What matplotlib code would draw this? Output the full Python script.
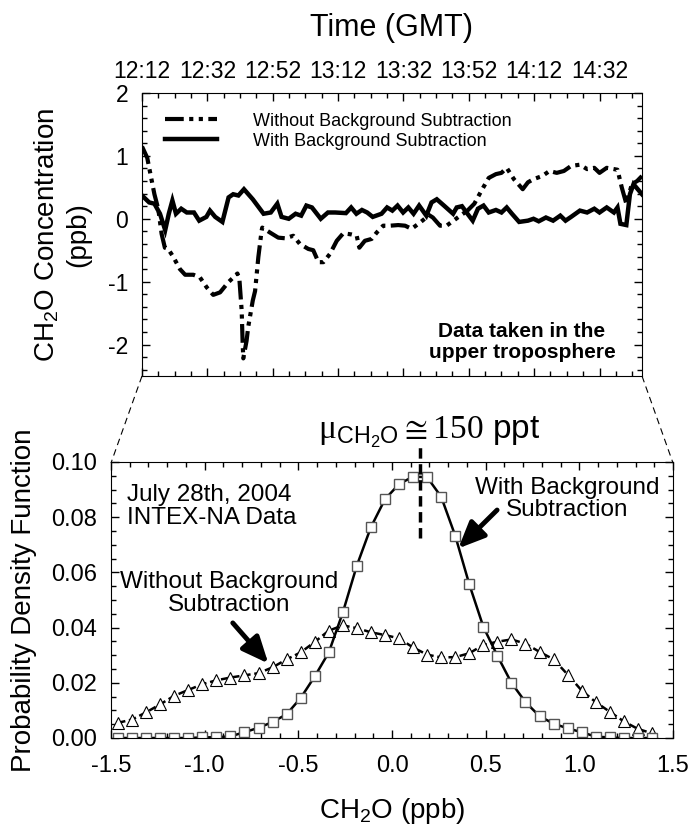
import matplotlib
matplotlib.use("Agg")
import matplotlib.pyplot as plt
from matplotlib.lines import Line2D
from matplotlib.ticker import MultipleLocator, FixedLocator, FixedFormatter, FormatStrFormatter

plt.rcParams['font.family'] = ['Liberation Sans', 'DejaVu Sans']
plt.rcParams['mathtext.fontset'] = 'custom'
plt.rcParams['mathtext.rm'] = 'Liberation Serif'
plt.rcParams['mathtext.sf'] = 'Liberation Sans'
plt.rcParams['mathtext.it'] = 'Liberation Sans:italic'
plt.rcParams['axes.unicode_minus'] = False

# ---- top panel: time series (minutes after 12:12 GMT) ----
time_labels = ['12:12', '12:32', '12:52', '13:12', '13:32', '13:52', '14:12', '14:32']
t_end = 153

t_without = [0, 1.6, 2.7, 3.8, 5.0, 6.0, 7.0, 8.0, 9.5, 11.6, 13.2, 15.7, 17.7, 19.8,
             21.8, 23.9, 26.4, 29.2, 29.8, 30.5, 30.8, 31.0, 32.0, 32.5, 33.9, 34.6,
             35.6, 36.6, 36.8, 39.2, 41.7, 43.8, 46.3, 48.3, 50.9, 52.4, 54.0, 55.5,
             57.5, 59.6, 61.6, 64.2, 65.7, 66.5, 68.2, 70.3, 71.8, 73.8, 75.9, 78.4,
             80.5, 82.5, 85.1, 86.5, 87.5, 89.0, 91.2, 93.2, 95.3, 97.4, 99.6, 101.7,
             103.9, 106.1, 108.3, 110.0, 111.6, 113.8, 116.5, 118.1, 119.8, 122.5,
             124.7, 126.9, 129.1, 131.3, 134.0, 136.2, 138.4, 140.0, 142.2, 145.5,
             146.8, 148.2, 149.9, 151.5, 153.0]
v_without = [1.15, 0.97, 0.68, 0.39, 0.15, -0.24, -0.46, -0.48, -0.60, -0.80, -0.89,
             -0.89, -0.93, -1.09, -1.21, -1.17, -1.01, -0.87, -0.96, -1.46, -1.98,
             -2.22, -1.94, -1.72, -1.30, -1.15, -0.61, -0.19, -0.14, -0.22, -0.30,
             -0.31, -0.27, -0.40, -0.48, -0.50, -0.69, -0.69, -0.56, -0.35, -0.23,
             -0.25, -0.27, -0.46, -0.35, -0.32, -0.22, -0.11, -0.11, -0.10, -0.11,
             -0.16, -0.06, 0.00, 0.07, 0.02, -0.11, -0.11, -0.03, 0.05, 0.13, 0.24,
             0.45, 0.65, 0.71, 0.73, 0.81, 0.63, 0.47, 0.58, 0.63, 0.68, 0.76, 0.73,
             0.76, 0.84, 0.86, 0.79, 0.81, 0.73, 0.81, 0.78, 0.50, 0.24, 0.55, 0.60,
             0.68]

t_with = [0, 2.2, 3.8, 5.5, 7.1, 8.2, 9.3, 10.4, 12.0, 13.7, 15.9, 17.5, 19.7, 20.8,
          22.4, 24.6, 26.5, 27.9, 29.5, 31.2, 33.9, 37.2, 39.4, 41.4, 42.7, 44.9, 47.0,
          48.7, 50.3, 52.0, 54.7, 56.9, 59.1, 62.4, 64.0, 65.6, 67.3, 68.9, 70.6, 73.3,
          75.0, 76.6, 78.2, 79.9, 81.5, 83.1, 84.8, 87.0, 88.6, 90.2, 92.4, 95.2, 96.3,
          97.9, 99.6, 101.2, 102.8, 104.5, 106.1, 108.3, 110.0, 111.6, 113.2, 115.4,
          118.1, 119.8, 121.4, 123.6, 125.8, 128.0, 129.6, 131.3, 134.0, 136.2, 138.4,
          140.0, 142.2, 144.4, 145.5, 146.4, 148.2, 149.3, 150.4, 153.0]
v_with = [0.37, 0.26, 0.24, 0.08, -0.18, 0.08, 0.29, 0.08, 0.16, 0.10, 0.10, -0.03,
          0.03, 0.13, 0.03, -0.05, 0.34, 0.39, 0.37, 0.47, 0.31, 0.08, 0.10, 0.24, 0.03,
          0.00, 0.08, 0.05, 0.21, 0.18, 0.00, 0.10, 0.10, 0.09, 0.18, 0.08, 0.14, 0.10,
          0.03, 0.08, 0.18, 0.13, 0.21, 0.10, 0.18, 0.08, 0.21, 0.05, 0.26, 0.31, 0.21,
          0.08, 0.18, 0.20, 0.08, -0.03, 0.16, 0.21, 0.10, 0.14, 0.10, 0.18, 0.08, -0.05,
          -0.03, 0.00, -0.04, 0.02, -0.03, 0.05, -0.03, 0.03, 0.13, 0.10, 0.16, 0.10,
          0.18, 0.10, 0.18, -0.08, -0.10, 0.39, 0.55, 0.39]

# ---- bottom panel: PDFs ----
pdf_x = [-1.4625, -1.3875, -1.3125, -1.2375, -1.1625, -1.0875, -1.0125, -0.9375,
         -0.8625, -0.7875, -0.7125, -0.6375, -0.5625, -0.4875, -0.4125, -0.3375,
         -0.2625, -0.1875, -0.1125, -0.0375, 0.0375, 0.1125, 0.1875, 0.2625, 0.3375,
         0.4125, 0.4875, 0.5625, 0.6375, 0.7125, 0.7875, 0.8625, 0.9375, 1.0125,
         1.0875, 1.1625, 1.2375, 1.3125, 1.3875]
pdf_with = [0, 0, 0, 0, 0, 0, 0.0002, 0.0003, 0.0006, 0.0021, 0.0037, 0.0058, 0.0086,
            0.0145, 0.0223, 0.0310, 0.0455, 0.0625, 0.0764, 0.0865, 0.0920, 0.0947,
            0.0945, 0.0874, 0.0733, 0.0557, 0.0403, 0.0298, 0.0200, 0.0130, 0.0079,
            0.0052, 0.0035, 0.0021, 0.0005, 0.0002, 0, 0, 0]
pdf_without = [0.0055, 0.0067, 0.0093, 0.0122, 0.0153, 0.0174, 0.0195, 0.0209, 0.0219,
               0.0227, 0.0235, 0.0256, 0.0285, 0.0310, 0.0348, 0.0389, 0.0408, 0.0398,
               0.0383, 0.0373, 0.0361, 0.0328, 0.0302, 0.0292, 0.0293, 0.0307, 0.0337,
               0.0349, 0.0357, 0.0342, 0.0312, 0.0285, 0.0230, 0.0172, 0.0130, 0.0095,
               0.0060, 0.0033, 0.0017]
mean_ppb = 0.15

W, H = 691, 835
fig = plt.figure(figsize=(W / 100, H / 100), dpi=100)
ax1 = fig.add_axes([142 / W, 1 - 376 / H, 500 / W, 283 / H])
ax2 = fig.add_axes([111 / W, 1 - 738 / H, 562 / W, 276 / H])

# top panel
dashdot = (0, (4.5, 1.3, 1.0, 1.3, 1.0, 1.3))
ax1.plot(t_without, v_without, color='black', lw=3.0, linestyle=dashdot,
         label='Without Background Subtraction')
ax1.plot(t_with, v_with, color='black', lw=3.2, solid_joinstyle='miter',
         label='With Background Subtraction')
ax1.set_xlim(0, t_end)
ax1.set_ylim(-2.5, 2)
tick_pos = [(int(s[:2]) - 12) * 60 + int(s[3:]) - 12 for s in time_labels]
ax1.xaxis.set_major_locator(FixedLocator(tick_pos))
ax1.xaxis.set_major_formatter(FixedFormatter(time_labels))
ax1.xaxis.set_minor_locator(MultipleLocator(5))
ax1.yaxis.set_major_locator(MultipleLocator(1))
ax1.yaxis.set_minor_locator(MultipleLocator(0.2))
ax1.tick_params(axis='x', which='both', top=True, bottom=True, labeltop=True,
                labelbottom=False, direction='in')
ax1.tick_params(axis='y', which='both', left=True, right=True, direction='in')
ax1.tick_params(which='major', length=6, width=1, labelsize=16.5, pad=7)
ax1.tick_params(which='minor', length=3.5, width=1)
ax1.tick_params(axis='y', pad=10)
ax1.set_ylabel('CH$_\\mathsf{2}$O Concentration\n(ppb)', fontsize=20, labelpad=12)
ax1.legend(loc='upper left', bbox_to_anchor=(0.046, 0.93), frameon=False,
           fontsize=13, handlelength=2.9, handletextpad=2.0, labelspacing=0.15,
           borderpad=0, borderaxespad=0)
ax1.text(0.76, 0.12, 'Data taken in the\nupper troposphere', transform=ax1.transAxes,
         ha='center', va='center', fontsize=15, fontweight='bold', linespacing=1.1)
fig.text(392 / W, 1 - 28 / H, 'Time (GMT)', ha='center', va='center', fontsize=22)

# bottom panel
ax2.plot(pdf_x, pdf_without, color='black', lw=1.8, linestyle=(0, (3, 1.5)),
         marker='^', markersize=8, markerfacecolor='white', markeredgecolor='black',
         markeredgewidth=0.8)
ax2.plot(pdf_x, pdf_with, color='black', lw=1.8, marker='s', markersize=7,
         markerfacecolor='white', markeredgecolor='#555555', markeredgewidth=1.0)
ax2.set_xlim(-1.5, 1.5)
ax2.set_ylim(0, 0.1)
ax2.xaxis.set_major_locator(MultipleLocator(0.5))
ax2.xaxis.set_minor_locator(MultipleLocator(0.1))
ax2.yaxis.set_major_locator(MultipleLocator(0.02))
ax2.yaxis.set_minor_locator(MultipleLocator(0.005))
ax2.xaxis.set_major_formatter(FormatStrFormatter('%.1f'))
ax2.yaxis.set_major_formatter(FormatStrFormatter('%.2f'))
ax2.tick_params(which='both', top=True, right=True, direction='in')
ax2.tick_params(which='major', length=6, width=1, labelsize=17, pad=10)
ax2.tick_params(axis='x', pad=12)
ax2.tick_params(which='minor', length=3.5, width=1)
ax2.set_xlabel('CH$_\\mathsf{2}$O (ppb)', fontsize=20, labelpad=14)
ax2.set_ylabel('Probability Density Function', fontsize=20, labelpad=10)

ax2.plot([mean_ppb, mean_ppb], [0.0725, 0.1055], color='black', lw=2.5,
         linestyle=(0, (3, 1.6)), clip_on=False)
ax2.text(0.2, 0.1085, r'$\mathrm{\mu}_{\mathsf{CH_2O}}\cong\mathrm{150}$ ppt',
         ha='center', va='baseline', fontsize=24)

ax2.text(-1.415, 0.084, 'July 28th, 2004\nINTEX-NA Data', ha='left', va='center',
         fontsize=17.5, linespacing=1.05)
ax2.text(-0.87, 0.0523, 'Without Background\nSubtraction', ha='center', va='center',
         fontsize=17.5, linespacing=1.05)
ax2.text(0.935, 0.0866, 'With Background\nSubtraction', ha='center', va='center',
         fontsize=17.5, linespacing=1.05)
arrow_style = dict(arrowstyle='-|>,head_length=0.8,head_width=0.35', lw=3.5,
                   color='black', shrinkA=0, shrinkB=0, mutation_scale=20)
ax2.annotate('', xy=(-0.66, 0.027), xytext=(-0.85, 0.0417), arrowprops=arrow_style)
ax2.annotate('', xy=(0.354, 0.0687), xytext=(0.561, 0.0826), arrowprops=arrow_style)

# dashed zoom connectors between the panels
for xa, xb in [(142, 111), (642, 673)]:
    fig.add_artist(Line2D([xa / W, xb / W], [1 - 376 / H, 1 - 463 / H],
                          transform=fig.transFigure, color='black', lw=0.8,
                          linestyle=(0, (6, 4))))

fig.savefig('out.png', dpi=100)
